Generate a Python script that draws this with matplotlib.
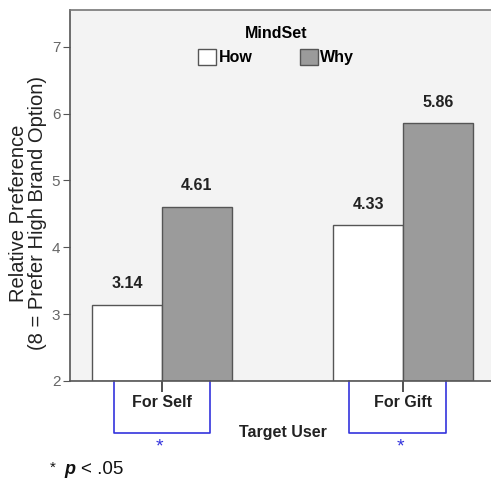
import matplotlib
matplotlib.use("Agg")
import matplotlib.pyplot as plt
import matplotlib.transforms as mtransforms
from matplotlib.patches import Patch
import numpy as np

plt.rcParams['font.family'] = ['Liberation Sans', 'DejaVu Sans']

categories = ["For Self", "For Gift"]
series_names = ["How", "Why"]
how_values = [3.14, 4.33]
why_values = [4.61, 5.86]
value_labels_how = ["3.14", "4.33"]
value_labels_why = ["4.61", "5.86"]
yticks = [2, 3, 4, 5, 6, 7]

fig = plt.figure(figsize=(4.91, 4.78), dpi=100)
ax = fig.add_axes([70/491, 1-381/478, 421/491, 371/478])
ax.set_facecolor('#f3f3f3')

x = np.arange(len(categories))
w = 0.29
edge = '#555555'
ax.bar(x - w/2, [v - 2 for v in how_values], width=w, bottom=2, color='white', edgecolor=edge, linewidth=1.0, label=series_names[0])
ax.bar(x + w/2, [v - 2 for v in why_values], width=w, bottom=2, color='#9b9b9b', edgecolor=edge, linewidth=1.0, label=series_names[1])

for xi, v, s in zip(x - w/2, how_values, value_labels_how):
    ax.text(xi, v + 0.2, s, ha='center', va='bottom', fontsize=11.5, fontweight='bold', color='#222222')
for xi, v, s in zip(x + w/2, why_values, value_labels_why):
    ax.text(xi, v + 0.2, s, ha='center', va='bottom', fontsize=11.5, fontweight='bold', color='#222222')

ax.set_xlim(-0.382, 1.365)
ax.set_ylim(2, 7.55)
ax.set_yticks(yticks)
ax.set_yticklabels([str(t) for t in yticks], fontsize=11, color='#666666')
ax.tick_params(axis='y', length=5, color='#555555', pad=2)
ax.set_xticks(x)
ax.set_xticklabels(categories, fontsize=11.5, fontweight='bold', color='#222222')
ax.tick_params(axis='x', length=8, width=1.2, color='#333333', pad=2)

for s in ['left', 'bottom']:
    ax.spines[s].set_color('#555555')
    ax.spines[s].set_linewidth(1.2)
ax.spines['top'].set_color('#777777')
ax.spines['top'].set_linewidth(1.2)
ax.spines['right'].set_visible(False)

fig.text(28/491, 1-213/478, "Relative Preference\n(8 = Prefer High Brand Option)", rotation=90,
         ha='center', va='center', multialignment='center', fontsize=14.5, color='#222222', linespacing=0.95)

# legend
handles = [Patch(facecolor='white', edgecolor=edge, label='How'),
           Patch(facecolor='#9b9b9b', edgecolor=edge, label='Why')]
leg = ax.legend(handles=handles, title='MindSet', ncol=2, loc='upper center',
                bbox_to_anchor=(0.49, 0.995), frameon=False, fontsize=11.5,
                title_fontproperties={'weight': 'bold', 'size': 11.5},
                handlelength=1.1, handleheight=1.1, handletextpad=0.15, columnspacing=3.0)
for t in leg.get_texts():
    t.set_fontweight('bold')

# x-axis label
fig.text(283/491, 1-433/478, "Target User", ha='center', va='center', fontsize=11.5, fontweight='bold', color='#222222')

# significance brackets
trans = mtransforms.blended_transform_factory(ax.transData, ax.transAxes)
blue = '#3333dd'
for xi, (l, r) in zip(x, [(-0.2, 0.2), (-0.224, 0.178)]):
    ax.plot([xi + l, xi + l, xi + r, xi + r], [0, -0.14, -0.14, 0], transform=trans,
            color=blue, linewidth=1.2, clip_on=False)
    ax.text(xi - 0.01, -0.178, "*", transform=trans, ha='center', va='center', fontsize=14, color=blue)

fig.text(50/491, 1-468/478, "*", ha='left', va='center', fontsize=11, color='#111111')
fig.text(64/491, 1-470/478, "p", ha='left', va='center', fontsize=13, style='italic', fontweight='bold', color='#111111')
fig.text(81/491, 1-470/478, "< .05", ha='left', va='center', fontsize=13.5, color='#111111')

fig.savefig("out.png", dpi=100)
